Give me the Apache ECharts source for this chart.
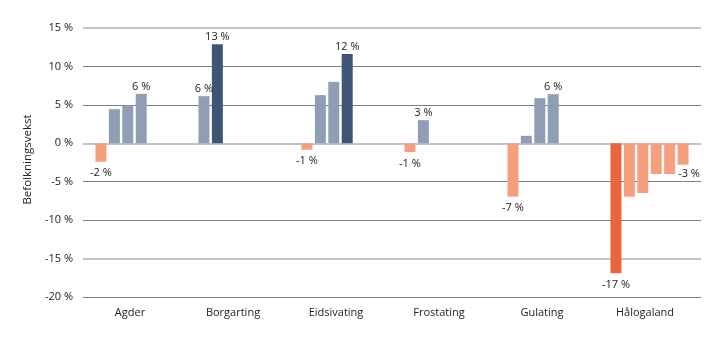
<!DOCTYPE html>
<html>
<head>
<meta charset="utf-8">
<script src="https://cdn.jsdelivr.net/npm/echarts@6/dist/echarts.min.js"></script>
<style>
  html, body { margin: 0; padding: 0; background: #ffffff; }
  #chart { width: 719px; height: 341px; }
</style>
</head>
<body>
<div id="chart"></div>
<script>
// Lagdømmer along the x axis
const categories = ['Agder', 'Borgarting', 'Eidsivating', 'Frostating', 'Gulating', 'Hålogaland'];

// Population growth (%) for each bar within a lagdømme, in drawing order
const agder       = [-2.4, 4.44, 4.96, 6.43];
const borgarting  = [6.13, 12.88];
const eidsivating = [-0.84, 6.26, 7.99, 11.62];
const frostating  = [-1.15, 3.01];
const gulating    = [-6.95, 0.97, 5.87, 6.39];
const halogaland  = [-16.9, -6.95, -6.47, -4.0, -4.0, -2.79];

// Index of the emphasised bar in each group (-1 = none)
const highlighted = [-1, 1, 3, -1, -1, 0];

// Y axis ticks
const yTicks = [-20, -15, -10, -5, 0, 5, 10, 15];

const groups = [agder, borgarting, eidsivating, frostating, gulating, halogaland];
const slotCount = Math.max(...groups.map(g => g.length));

const COLORS = {
  pos: '#8f9eb5',
  posDark: '#3e5676',
  neg: '#f4a07f',
  negDark: '#e9653f'
};
const FONT = "'Open Sans', 'Noto Sans', sans-serif";

function fmt(v) { return Math.round(v) + ' %'; }

const series = [];
for (let s = 0; s < slotCount; s++) {
  const data = groups.map((g, ci) => {
    if (s >= g.length) return null;
    const v = g[s];
    const dark = highlighted[ci] === s;
    const color = v < 0 ? (dark ? COLORS.negDark : COLORS.neg) : (dark ? COLORS.posDark : COLORS.pos);
    const isEdge = s === 0 || s === g.length - 1;
    const item = { value: v, itemStyle: { color: color } };
    if (isEdge) {
      item.label = {
        show: true,
        position: v < 0 ? 'bottom' : 'top',
        distance: v < 0 ? 6 : 2,
        formatter: p => fmt(p.value)
      };
      if (ci === groups.length - 1 && s === g.length - 1) item.label.offset = [6, -2];
    }
    return item;
  });
  series.push({
    type: 'bar',
    name: 'Bar ' + (s + 1),
    data: data,
    barWidth: 11,
    barGap: '22%',
    yAxisIndex: 0,
    label: { show: false, fontSize: 11, fontFamily: FONT, color: '#222222' },
    emphasis: { disabled: true },
    animation: false
  });
}

const darkLine = '#808080';
const lightLine = '#c4c4c4';
// split line palettes indexed by tick (from min upwards)
const lightTicks = [-15, 0, 15];
const darkColors = yTicks.map(t => lightTicks.includes(t) ? 'rgba(0,0,0,0)' : darkLine);
const lightColors = yTicks.map(t => lightTicks.includes(t) ? lightLine : 'rgba(0,0,0,0)');

const yBase = {
  type: 'value',
  min: yTicks[0],
  max: yTicks[yTicks.length - 1],
  interval: 5,
  axisLine: { show: false },
  axisTick: { show: false }
};

const option = {
  backgroundColor: '#ffffff',
  animation: false,
  grid: { left: 83, right: 18, top: 28, bottom: 44, containLabel: false },
  xAxis: {
    type: 'category',
    data: categories,
    axisLine: { show: false },
    axisTick: { show: false },
    axisLabel: {
      fontSize: 11,
      fontFamily: FONT,
      color: '#222222',
      margin: 10,
      padding: [0, 9, 0, 0]
    },
    splitLine: { show: false }
  },
  yAxis: [
    Object.assign({}, yBase, {
      name: 'Befolkningsvekst',
      nameLocation: 'middle',
      nameRotate: 90,
      nameGap: 48,
      nameTextStyle: { fontSize: 11.5, fontFamily: FONT, color: '#222222', padding: [0, 0, 0, 6] },
      axisLabel: {
        fontSize: 11,
        fontFamily: FONT,
        color: '#222222',
        margin: 10,
        formatter: v => v + ' %'
      },
      splitLine: { show: true, lineStyle: { color: darkColors, width: 1 } }
    }),
    Object.assign({}, yBase, {
      position: 'left',
      axisLabel: { show: false },
      splitLine: { show: true, lineStyle: { color: lightColors, width: 2 } }
    })
  ],
  series: series
};

const chart = echarts.init(document.getElementById('chart'), null, { renderer: 'canvas' });
chart.setOption(option);
</script>
</body>
</html>
